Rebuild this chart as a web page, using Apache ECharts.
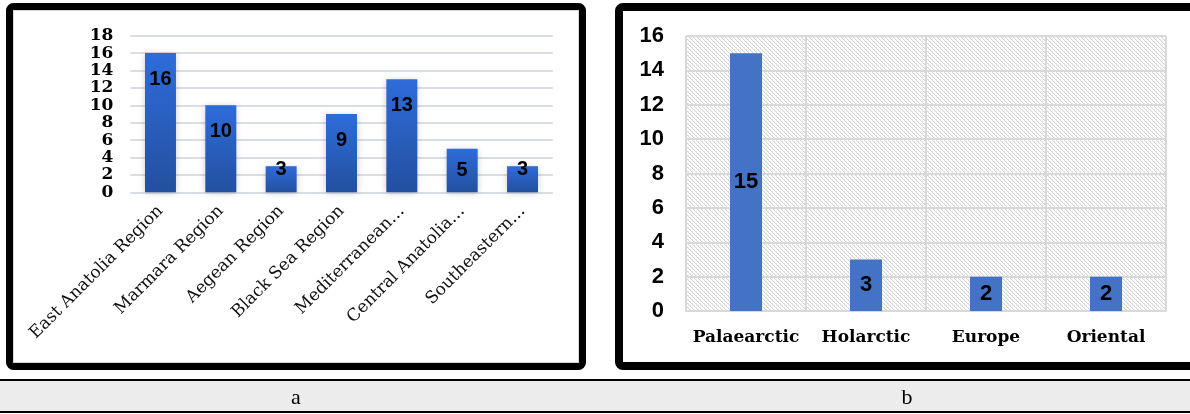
<!DOCTYPE html>
<html>
<head>
<meta charset="utf-8">
<script src="https://cdn.jsdelivr.net/npm/echarts@6/dist/echarts.min.js"></script>
<style>
  html, body { margin: 0; padding: 0; background: #fff; }
  #chart { width: 1190px; height: 414px; }
</style>
</head>
<body>
<div id="chart"></div>
<script>
// Panel a: species counts per geographic region of Türkiye
const regionNames = ['East Anatolia Region', 'Marmara Region', 'Aegean Region', 'Black Sea Region',
  'Mediterranean Region', 'Central Anatolia Region', 'Southeastern Anatolia Region'];
const regionTickLabels = ['East Anatolia Region', 'Marmara Region', 'Aegean Region', 'Black Sea Region',
  'Mediterranean…', 'Central Anatolia…', 'Southeastern…'];
const regionCounts = [16, 10, 3, 9, 13, 5, 3];

// Panel b: species counts per zoogeographic realm
const realmNames = ['Palaearctic', 'Holarctic', 'Europe', 'Oriental'];
const realmCounts = [15, 3, 2, 2];

const panelLetters = ['a', 'b'];

const SERIF = "'DejaVu Serif', serif";
const SANS = "'Liberation Sans', Arial, sans-serif";

// fine diagonal hatch used as plot background in panel b
function hatchPattern() {
  const c = document.createElement('canvas');
  c.width = 8; c.height = 8;
  const ctx = c.getContext('2d');
  ctx.fillStyle = '#ffffff';
  ctx.fillRect(0, 0, 8, 8);
  for (let y = 0; y < 8; y++) {
    for (let x = 0; x < 8; x++) {
      const d = ((x - y) % 4 + 4) % 4;
      if (d === 0) { ctx.fillStyle = '#d2d2d2'; ctx.fillRect(x, y, 1, 1); }
      else if (d === 1 && x % 2 === 0) { ctx.fillStyle = '#e8e8e8'; ctx.fillRect(x, y, 1, 1); }
    }
  }
  return { image: c, repeat: 'repeat' };
}

// label placement inside the region bars: tall bars near the top, short bars centred or raised
function regionLabel(v) {
  if (v >= 9) return { position: 'insideTop', distance: 16 };
  if (v >= 5) return { position: 'inside' };
  return { position: 'insideTop', distance: -7 };
}

const chart = echarts.init(document.getElementById('chart'), null, { renderer: 'canvas' });

const option = {
  animation: false,
  backgroundColor: '#ffffff',
  grid: [
    { left: 130.3, top: 35.7, width: 422.4, height: 156.6, outerBoundsMode: 'none', containLabel: false },
    { left: 686, top: 36, width: 480, height: 275, outerBoundsMode: 'none', containLabel: false,
      show: true, backgroundColor: hatchPattern(), borderWidth: 0 }
  ],
  xAxis: [
    {
      type: 'category', gridIndex: 0, data: regionNames,
      axisLine: { show: false }, axisTick: { show: false },
      axisLabel: {
        rotate: 45, interval: 0, margin: 16, color: '#111',
        fontFamily: SERIF, fontSize: 17,
        formatter: (val, i) => regionTickLabels[i]
      },
      splitLine: { show: false }
    },
    {
      type: 'category', gridIndex: 1, data: realmNames,
      axisLine: { show: true, lineStyle: { color: '#d9d9d9', width: 2 } },
      axisTick: { show: false },
      axisLabel: { interval: 0, margin: 18, color: '#000', fontFamily: SERIF,
        fontWeight: 'bold', fontSize: 17 },
      splitLine: { show: true, interval: 0, lineStyle: { color: '#d9d9d9', width: 2 } }
    }
  ],
  yAxis: [
    {
      type: 'value', gridIndex: 0, min: 0, max: 18, interval: 2,
      axisLine: { show: false }, axisTick: { show: false },
      axisLabel: { margin: 17, color: '#000', fontFamily: SERIF, fontWeight: 'bold', fontSize: 17 },
      splitLine: { show: true, lineStyle: { color: '#dadde4', width: 2 } }
    },
    {
      type: 'value', gridIndex: 1, min: 0, max: 16, interval: 2,
      axisLine: { show: false }, axisTick: { show: false },
      axisLabel: { margin: 22, color: '#000', fontFamily: SANS, fontWeight: 'bold', fontSize: 22 },
      splitLine: { show: true, lineStyle: { color: '#d9d9d9', width: 2 } }
    }
  ],
  series: [
    {
      type: 'bar', xAxisIndex: 0, yAxisIndex: 0, barWidth: 31,
      data: regionCounts.map(v => ({ value: v, label: regionLabel(v) })),
      itemStyle: {
        color: new echarts.graphic.LinearGradient(0, 0, 0, 1, [
          { offset: 0, color: '#2e6cda' },
          { offset: 1, color: '#23509f' }
        ]),
        shadowColor: 'rgba(0,0,0,0.22)', shadowBlur: 7, shadowOffsetY: 1
      },
      label: { show: true, color: '#000', fontFamily: SANS, fontWeight: 'bold', fontSize: 20 }
    },
    {
      type: 'bar', xAxisIndex: 1, yAxisIndex: 1, barWidth: 32,
      data: realmCounts,
      itemStyle: { color: '#4472c4' },
      label: { show: true, position: 'inside', color: '#000', fontFamily: SANS, fontWeight: 'bold', fontSize: 22 }
    }
  ],
  graphic: [
    // panel frames
    { type: 'rect', z: 100, shape: { x: 9.5, y: 6.5, width: 573, height: 360, r: 4 },
      style: { fill: 'none', stroke: '#000', lineWidth: 7 } },
    { type: 'rect', z: 99, shape: { x: 13.5, y: 10.5, width: 565, height: 352 },
      style: { fill: 'none', stroke: '#d8d8d8', lineWidth: 1 } },
    { type: 'rect', z: 100, shape: { x: 619, y: 7, width: 600, height: 359, r: 4 },
      style: { fill: 'none', stroke: '#000', lineWidth: 8 } },
    // caption band
    { type: 'rect', z: 100, shape: { x: 0, y: 381, width: 1190, height: 30 },
      style: { fill: '#ececec' } },
    { type: 'line', z: 101, shape: { x1: 0, y1: 380, x2: 1190, y2: 380 },
      style: { stroke: '#000', lineWidth: 2 } },
    { type: 'line', z: 101, shape: { x1: 0, y1: 412, x2: 1190, y2: 412 },
      style: { stroke: '#000', lineWidth: 2 } },
    { type: 'text', z: 102, x: 296, y: 398,
      style: { text: panelLetters[0], font: "22px 'Liberation Serif', serif", fill: '#000',
        align: 'center', verticalAlign: 'middle' } },
    { type: 'text', z: 102, x: 907, y: 398,
      style: { text: panelLetters[1], font: "22px 'Liberation Serif', serif", fill: '#000',
        align: 'center', verticalAlign: 'middle' } }
  ]
};

chart.setOption(option);
</script>
</body>
</html>
